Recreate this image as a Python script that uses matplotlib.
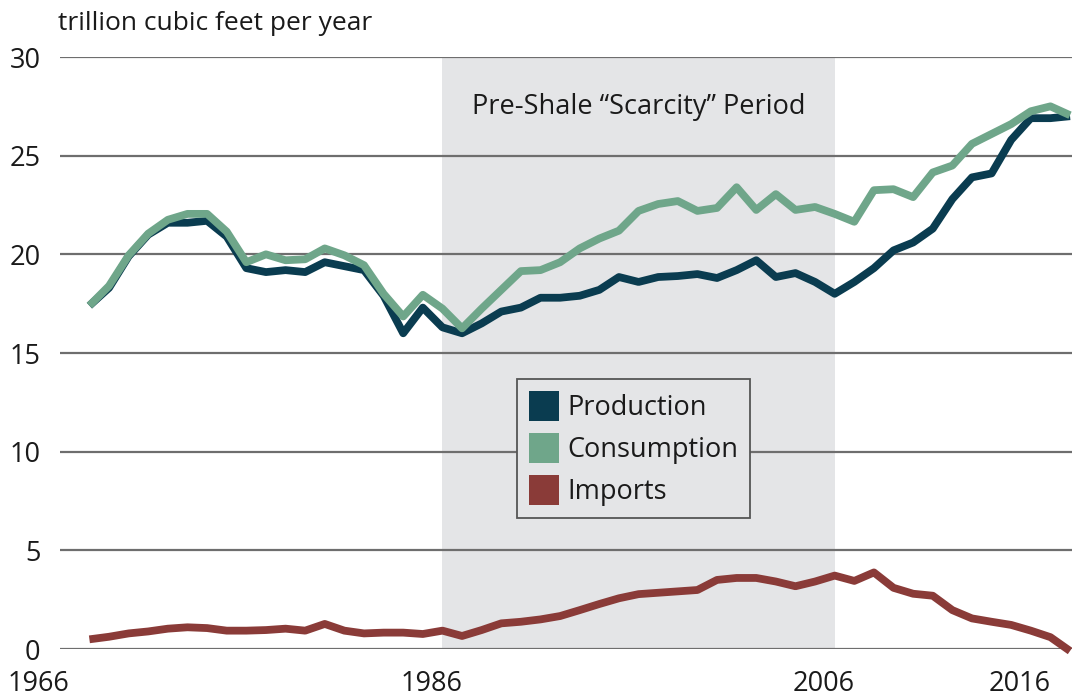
import matplotlib
matplotlib.use("Agg")
import matplotlib.pyplot as plt
from matplotlib.patches import Patch

plt.rcParams['font.family'] = ['Open Sans', 'DejaVu Sans']

# --- data (trillion cubic feet per year) ---
years = list(range(1967, 2018))

production = [17.4, 18.3, 19.9, 21.0, 21.6, 21.6, 21.7, 20.9, 19.3, 19.1,
              19.2, 19.1, 19.6, 19.4, 19.2, 17.9, 16.0, 17.3, 16.3, 16.0,
              16.5, 17.1, 17.3, 17.8, 17.8, 17.9, 18.2, 18.85, 18.6, 18.85,
              18.9, 19.0, 18.8, 19.2, 19.7, 18.85, 19.05, 18.6, 18.0, 18.6,
              19.3, 20.2, 20.6, 21.3, 22.8, 23.9, 24.1, 25.8, 26.9, 26.9,
              27.0]

consumption = [17.4, 18.4, 19.95, 21.05, 21.75, 22.05, 22.05, 21.15, 19.6, 20.0,
               19.7, 19.75, 20.3, 19.95, 19.45, 18.0, 16.85, 17.95, 17.25, 16.25,
               17.25, 18.2, 19.15, 19.2, 19.6, 20.3, 20.8, 21.2, 22.2, 22.55,
               22.7, 22.2, 22.35, 23.4, 22.25, 23.05, 22.25, 22.4, 22.05, 21.65,
               23.25, 23.3, 22.9, 24.15, 24.5, 25.6, 26.1, 26.6, 27.25, 27.5,
               27.05]

imports = [0.49, 0.62, 0.79, 0.89, 1.03, 1.10, 1.06, 0.93, 0.93, 0.96,
           1.03, 0.93, 1.27, 0.93, 0.79, 0.83, 0.83, 0.76, 0.93, 0.66,
           0.96, 1.30, 1.38, 1.50, 1.67, 1.97, 2.28, 2.57, 2.78, 2.85,
           2.92, 2.99, 3.50, 3.60, 3.60, 3.42, 3.18, 3.42, 3.72, 3.45,
           3.88, 3.10, 2.80, 2.70, 1.97, 1.55, 1.38, 1.22, 0.93, 0.60,
           -0.10]

series_names = ['Production', 'Consumption', 'Imports']
colors = {'Production': '#0a3c50', 'Consumption': '#6fa68a', 'Imports': '#8a3b38'}
shade_years = (1985, 2005)
x_ticks = [1966, 1986, 2006, 2016]
y_ticks = [0, 5, 10, 15, 20, 25, 30]

fig = plt.figure(figsize=(10.72, 6.97), dpi=100)
ax = fig.add_axes([60 / 1072, 48 / 697, 1 - 60 / 1072, 592 / 697])

# shaded "scarcity" period
ax.axvspan(shade_years[0], shade_years[1], color='#e4e5e7', zorder=0.2, lw=0)

ax.plot(years, production, color=colors['Production'], lw=5.6, zorder=3,
        solid_capstyle='butt')
ax.plot(years, consumption, color=colors['Consumption'], lw=5.6, zorder=4,
        solid_capstyle='butt')
ax.plot(years, imports, color=colors['Imports'], lw=5.6, zorder=3,
        solid_capstyle='butt', clip_on=False)

ax.set_xlim(1965.5, 2017.1)
ax.set_ylim(0, 30)
ax.set_yticks(y_ticks)
ax.set_yticklabels([str(v) for v in y_ticks])
ax.set_xticks(x_ticks)
ax.set_xticklabels([str(v) for v in x_ticks], ha='right')

ax.grid(axis='y', color='#6e6e6e', lw=1.6)
ax.set_axisbelow(True)
for s in ax.spines.values():
    s.set_visible(False)
ax.tick_params(axis='both', length=0, labelsize=19.5, colors='#1a1a1a')
ax.tick_params(axis='y', pad=14)
ax.tick_params(axis='x', pad=15)

ax.text(1995, 27.45, 'Pre-Shale \u201cScarcity\u201d Period', ha='center', va='center',
        fontsize=19.5, color='#1a1a1a')

fig.text(58 / 1072, 1 - 29.5 / 697, 'trillion cubic feet per year', ha='left',
         va='baseline', fontsize=19, color='#1a1a1a')

handles = [Patch(facecolor=colors[n], edgecolor='none', label=n) for n in series_names]
leg = ax.legend(handles=handles, loc='upper left', bbox_to_anchor=(0.4516, 0.456),
                borderaxespad=0, fontsize=19.5, handlelength=1.1, handleheight=1.33,
                handletextpad=0.3, labelspacing=0.4, borderpad=0.45,
                fancybox=False, framealpha=1, facecolor='#e4e5e7',
                edgecolor='#555555')
leg.get_frame().set_linewidth(1.3)
for t in leg.get_texts():
    t.set_color('#1a1a1a')

fig.savefig('out.png', dpi=100)
